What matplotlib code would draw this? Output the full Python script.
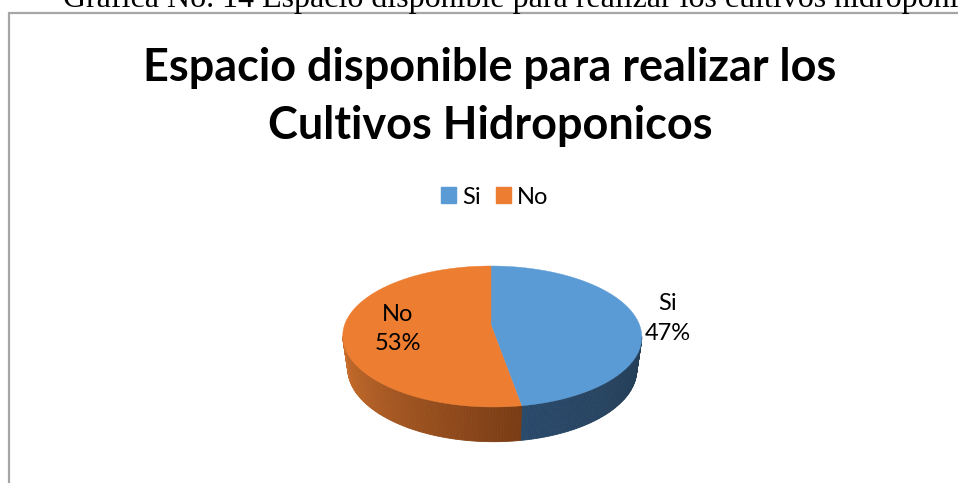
import numpy as np
import matplotlib
matplotlib.use("Agg")
import matplotlib.pyplot as plt
from matplotlib.patches import Patch

caption = "Grafica No. 14 Espacio disponible para realizar los cultivos hidroponicos"
title = "Espacio disponible para realizar los\nCultivos Hidroponicos"
categories = ["Si", "No"]
values = [47, 53]

BLUE = "#5b9bd5"
ORANGE = "#ed7d31"
# side wall colours, left end and right end of each slice as seen from the front
SIDE = {"Si": ((0.141, 0.239, 0.333), (0.165, 0.290, 0.420)),
        "No": ((0.475, 0.235, 0.082), (0.800, 0.440, 0.180))}

plt.rcParams["font.family"] = ["Lato", "DejaVu Sans"]

fig = plt.figure(figsize=(9.58, 4.83), dpi=100)
ax = fig.add_axes([0, 0, 1, 1])
ax.set_xlim(0, 958)
ax.set_ylim(483, 0)
ax.axis("off")

# text line above the chart, runs off the right side
ax.text(63, 7, caption, family="Liberation Serif", fontsize=23, color="black",
        ha="left", va="baseline", clip_on=True)

# chart border, open on the right and the bottom
ax.plot([9, 9, 958], [483, 13, 13], color="#a6a6a6", lw=1.6, solid_joinstyle="miter")

ax.text(490, 97, title, fontsize=32.4, fontweight="bold", color="black",
        ha="center", va="center", linespacing=1.45)

ax.legend(handles=[Patch(color=BLUE, label=categories[0]), Patch(color=ORANGE, label=categories[1])],
          loc="center", bbox_to_anchor=(494.5, 197), bbox_transform=ax.transData, ncol=2,
          frameon=False, fontsize=17, handlelength=0.635, handleheight=0.635,
          handletextpad=0.25, columnspacing=0.65)

# the tilted pie: top face plus bottom rim
cx, cy, rx, ry = 491, 336.5, 149.5, 70.5
apex_y = 325
bx, by, brx, bry = 491, 369, 144.5, 72.7
lean = 2.5  # front of the pie sits a little to the right


def top_edge(t):
    return cx + rx * np.sin(t) + lean * (1 - np.cos(t)) / 2, cy - ry * np.cos(t)


def low_edge(t):
    return bx + brx * np.sin(t) + lean * (1 - np.cos(t)) / 2, by - bry * np.cos(t)


shares = np.array(values) / sum(values) * 2 * np.pi
stops = np.concatenate([[0], np.cumsum(shares)])

# side wall, only the front half shows
for name, a, b in zip(categories, stops[:-1], stops[1:]):
    lo, hi = max(a, np.pi / 2), min(b, 3 * np.pi / 2)
    ts = np.linspace(lo, hi, 90)
    c0, c1 = np.array(SIDE[name][0]), np.array(SIDE[name][1])
    for t0, t1 in zip(ts[:-1], ts[1:]):
        k = (t0 - lo) / (hi - lo)
        col = c0 + (c1 - c0) * k
        x0, y0 = top_edge(t0)
        x1, y1 = top_edge(t1)
        x2, y2 = low_edge(t1)
        x3, y3 = low_edge(t0)
        ax.fill([x0, x1, x2, x3], [y0, y1, y2, y3], color=col, lw=0.6)

# top face
for name, col, a, b in zip(categories, [BLUE, ORANGE], stops[:-1], stops[1:]):
    ts = np.linspace(a, b, 200)
    xs, ys = top_edge(ts)
    ax.fill(np.r_[cx, xs], np.r_[apex_y, ys], color=col, lw=0.3)

label_pos = [(668, 318.5), (398, 329)]
for name, v, (lx, ly) in zip(categories, values, label_pos):
    ax.text(lx, ly, f"{name}\n{v}%", fontsize=17, color="black", ha="center", va="center",
            linespacing=1.5)

fig.savefig("out.png", dpi=100)
